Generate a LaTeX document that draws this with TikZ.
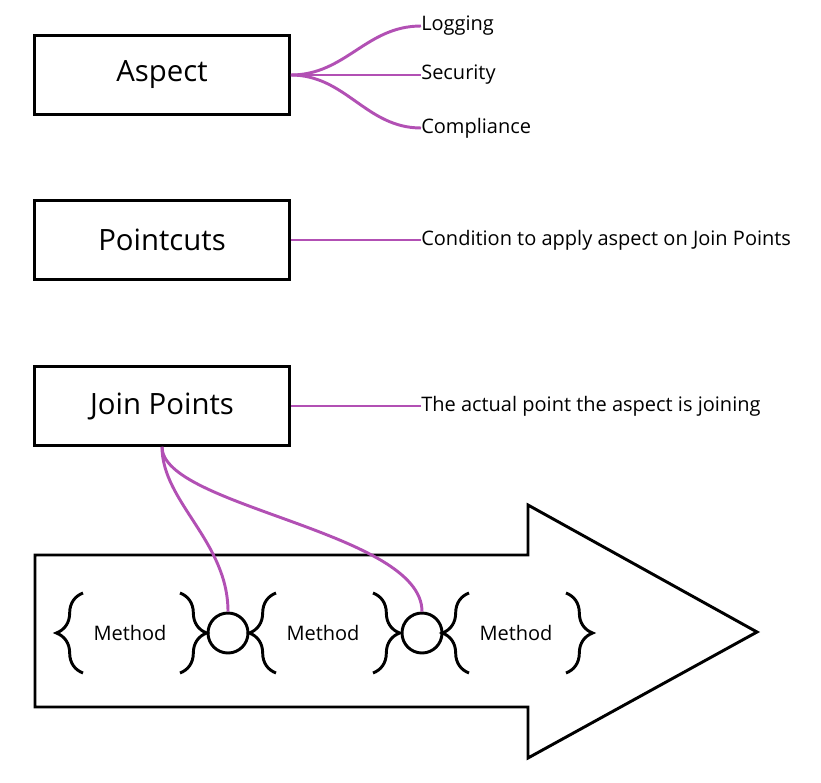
\documentclass[tikz,border=0pt]{standalone}
\usepackage{fontspec}
\setmainfont{Open Sans}
\usetikzlibrary{
    arrows.meta,
    positioning,
    calc,
    decorations.pathreplacing
}
\tikzset{
  concept/.style = {draw, line width=2.2pt, minimum width=191pt,
                    minimum height=59pt, align=center,
                    font=\fontsize{22}{26}\selectfont},
  note/.style    = {anchor=west, inner sep=0pt, font=\fontsize{15}{18}\selectfont},
  method/.style  = {inner sep=0pt, font=\fontsize{15}{18}\selectfont},
  joint/.style   = {draw, circle, line width=2.2pt, minimum size=30pt, inner sep=0pt},
  link/.style    = {LinkPurple, line width=2.2pt},
  cbrace/.style  = {decorate, decoration={brace, amplitude=20pt}, line width=2.2pt}
}
\definecolor{LinkPurple}{RGB}{178,80,180}

\begin{document}
\begin{tikzpicture}[x=0.75pt, y=-0.75pt]
\useasboundingbox (0,0) rectangle (821,782);
% concepts
\node[concept] (asp) at (162,75)  {Aspect};
\node[concept] (pc)  at (162,240) {Pointcuts};
\node[concept] (jp)  at (162,406) {Join Points};
\node[note] (log)  at (421,26)  {Logging};
\node[note] (sec)  at (421,75)  {Security};
\node[note] (comp) at (421,128) {Compliance};
\node[note] (cond) at (421,240) {Condition to apply aspect on Join Points};
\node[note] (act)  at (421,406) {The actual point the aspect is joining};
\foreach \t in {log,sec,comp}
  \draw[link] (asp.east) .. controls +(55,0) and +(-55,0) .. (\t.west);
\draw[link] (pc.east) -- (cond.west);
\draw[link] (jp.east) -- (act.west);
% program flow
\draw[line width=2.2pt] (35,555) -- (528,555) -- (528,505) -- (757,632)
  -- (528,758) -- (528,707) -- (35,707) -- cycle;
\node[method] (m1) at (130,633) {Method};
\node[method] (m2) at (323,633) {Method};
\node[method] (m3) at (516,633) {Method};
\node[joint] (c1) at (228,633) {};
\node[joint] (c2) at (422,633) {};
\foreach \m in {m1,m2,m3} {
  \draw[cbrace] ($(\m)+(-47,40)$) -- ($(\m)+(-47,-40)$);
  \draw[cbrace] ($(\m)+(50,-40)$) -- ($(\m)+(50,40)$);
}
\draw[link] (jp.south) .. controls +(0,55) and +(0,-70) .. (c1.north);
\draw[link] (jp.south) .. controls +(0,60) and +(0,-80) .. (c2.north);
\end{tikzpicture}
\end{document}
